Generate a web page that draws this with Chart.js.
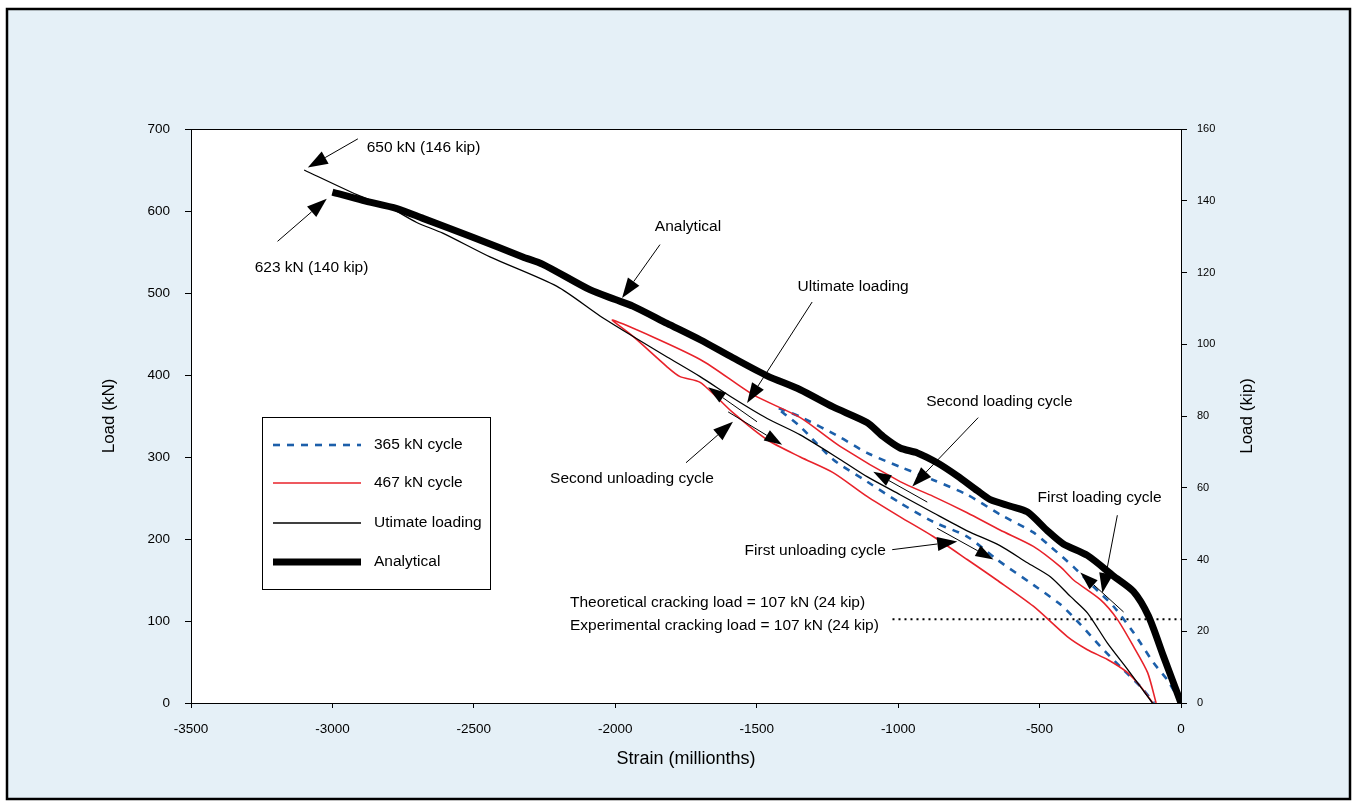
<!DOCTYPE html>
<html>
<head>
<meta charset="utf-8">
<script src="https://cdn.jsdelivr.net/npm/chart.js@4"></script>
<style>
html, body { margin: 0; padding: 0; background: #fff; }
canvas { display: block; }
</style>
</head>
<body>
<canvas id="chart" width="1357" height="806" style="width:1357px;height:806px"></canvas>
<script>
const FONT = '"Liberation Sans", Arial, Helvetica, sans-serif';

// strain in millionths, load in kN
const anaStrain = [-3000, -2893, -2772, -2680, -2504, -2327, -2256, -2090, -2000, -1938, -1817, -1700, -1584, -1463, -1346, -1230, -1110, -1053, -993, -932, -862, -791, -720, -674, -603, -543, -472, -416, -331, -239, -168, -115, -62, 0];
const anaLoad = [623, 613, 603, 591, 568, 544, 535, 504, 492, 484, 463, 443, 421, 399, 382, 361, 342, 325, 311, 305, 293, 277, 259, 248, 240, 233, 210, 194, 180, 155, 136, 106, 57, 0];

const ultStrain = [-101, -189, -260, -331, -391, -462, -543, -640, -756, -876, -993, -1110, -1205, -1346, -1463, -1584, -1700, -1817, -1937, -2054, -2206, -2443, -2610, -2702, -2797, -2914, -3100];
const ultLoad = [0, 41, 73, 110, 130, 154, 171, 192, 210, 232, 254, 276, 297, 327, 347, 372, 398, 422, 447, 472, 508, 544, 573, 586, 604, 620, 650];

// 467 kN cycle: loading branch up to the peak, then unloading back down
const c467Strain = [-88, -118, -168, -225, -285, -380, -426, -522, -640, -756, -876, -993, -1205, -1346, -1513, -1700, -2009, -1937, -1817, -1771, -1700, -1584, -1463, -1346, -1230, -1110, -993, -876, -756, -651, -522, -402, -331, -260, -189, -143, -100];
const c467Load = [0, 37, 69, 102, 126, 150, 166, 191, 211, 232, 252, 270, 313, 348, 376, 419, 467, 447, 410, 398, 391, 354, 321, 300, 281, 252, 227, 203, 175, 150, 118, 81, 65, 53, 37, 20, 0];

// 365 kN cycle
const c365Strain = [0, -48, -97, -168, -239, -310, -380, -462, -522, -640, -756, -876, -993, -1110, -1205, -1346, -1428, -1407, -1346, -1230, -1110, -993, -876, -756, -651, -522, -426, -356, -285, -214, -143, -95];
const c365Load = [0, 28, 49, 86, 118, 142, 166, 191, 208, 230, 254, 272, 288, 305, 324, 349, 360, 354, 337, 297, 270, 244, 221, 203, 175, 144, 120, 96, 69, 44, 20, 0];

const crackStrain = [-1020, 0];
const crackLoad = [102, 102];

const noteText = ['650 kN (146 kip)', '623 kN (140 kip)', 'Analytical', 'Ultimate loading',
  'Second unloading cycle', 'Second loading cycle', 'First loading cycle', 'First unloading cycle',
  'Theoretical cracking load = 107 kN (24 kip)', 'Experimental cracking load = 107 kN (24 kip)'];
const noteStrain = [-2879, -3275, -1743, -1159, -1941, -642, -288, -1293, -2160, -2160];
const noteLoad = [677, 531, 581, 508, 273, 367, 250, 186, 122, 94];
const noteAlign = ['left', 'left', 'center', 'center', 'center', 'center', 'center', 'center', 'left', 'left'];

// pointer arrows from label to curve, and small flow-direction arrows on the curves
const pointerFrom = [[-2910, 688], [-3194, 563], [-1842, 559], [-1304, 489], [-1750, 293], [-717, 348], [-225, 229], [-1021, 187]];
const pointerTo = [[-3087, 653], [-3020, 615], [-1976, 494], [-1534, 366], [-1584, 343], [-950, 264], [-278, 134], [-791, 197]];
const flowFrom = [[-1499, 343], [-1601, 355], [-897, 245], [-862, 213], [-203, 111]];
const flowTo = [[-1672, 385], [-1410, 315], [-1088, 282], [-663, 175], [-356, 159]];

const xTicks = [-3500, -3000, -2500, -2000, -1500, -1000, -500, 0];

function pts(xs, ys) {
  return xs.map((x, i) => ({ x: x, y: ys[i] }));
}

function arrow(ctx, x1, y1, x2, y2, len, half) {
  const a = Math.atan2(y2 - y1, x2 - x1);
  const bx = x2 - len * Math.cos(a), by = y2 - len * Math.sin(a);
  ctx.beginPath();
  ctx.moveTo(x1, y1);
  ctx.lineTo(bx, by);
  ctx.stroke();
  ctx.beginPath();
  ctx.moveTo(x2, y2);
  ctx.lineTo(bx + half * Math.sin(a), by - half * Math.cos(a));
  ctx.lineTo(bx - half * Math.sin(a), by + half * Math.cos(a));
  ctx.closePath();
  ctx.fill();
}

const frame = {
  id: 'frame',
  beforeDraw(chart) {
    const { ctx, chartArea: a } = chart;
    ctx.save();
    ctx.fillStyle = '#fff';
    ctx.fillRect(0, 0, chart.width, chart.height);
    ctx.fillStyle = 'rgb(229,240,247)';
    ctx.fillRect(7, 9, 1343, 790);
    ctx.strokeStyle = '#000';
    ctx.lineWidth = 2.5;
    ctx.strokeRect(7, 9, 1343, 790);
    ctx.fillStyle = '#fff';
    ctx.fillRect(a.left, a.top, a.right - a.left, a.bottom - a.top);
    ctx.restore();
  },
  afterDraw(chart) {
    const { ctx, chartArea: a, scales } = chart;
    const sx = v => scales.x.getPixelForValue(v);
    const sy = v => scales.y.getPixelForValue(v);
    ctx.save();
    // plot border
    ctx.strokeStyle = '#000';
    ctx.lineWidth = 1;
    ctx.strokeRect(a.left + 0.5, a.top + 0.5, a.right - a.left, a.bottom - a.top);

    // right axis title, reads bottom to top
    ctx.fillStyle = '#000';
    ctx.font = '17px ' + FONT;
    ctx.textAlign = 'center';
    ctx.textBaseline = 'middle';
    ctx.save();
    ctx.translate(1247, (a.top + a.bottom) / 2);
    ctx.rotate(-Math.PI / 2);
    ctx.fillText('Load (kip)', 0, 0);
    ctx.restore();

    // annotations
    ctx.font = '15.5px ' + FONT;
    noteText.forEach((t, i) => {
      ctx.textAlign = noteAlign[i];
      ctx.fillText(t, sx(noteStrain[i]), sy(noteLoad[i]));
    });
    ctx.lineWidth = 1;
    pointerFrom.forEach((p, i) => {
      const q = pointerTo[i];
      arrow(ctx, sx(p[0]), sy(p[1]), sx(q[0]), sy(q[1]), 20, 7);
    });
    flowFrom.forEach((p, i) => {
      const q = flowTo[i];
      arrow(ctx, sx(p[0]), sy(p[1]), sx(q[0]), sy(q[1]), 18, 6);
    });

    // legend box
    const lx = 262, ly = 417, lw = 228, lh = 172;
    ctx.fillStyle = '#fff';
    ctx.fillRect(lx, ly, lw, lh);
    ctx.strokeStyle = '#000';
    ctx.lineWidth = 1;
    ctx.strokeRect(lx + 0.5, ly + 0.5, lw, lh);
    const rows = [445, 483, 523, 562];
    chart.data.datasets.slice(0, 4).reverse().forEach((ds, i) => {
      ctx.strokeStyle = ds.borderColor;
      ctx.lineWidth = ds.borderWidth;
      ctx.setLineDash(ds.borderDash || []);
      ctx.beginPath();
      ctx.moveTo(273, rows[i]);
      ctx.lineTo(361, rows[i]);
      ctx.stroke();
      ctx.setLineDash([]);
      ctx.fillStyle = '#000';
      ctx.textAlign = 'left';
      ctx.fillText(ds.label, 374, rows[i]);
    });
    ctx.restore();
  }
};

new Chart(document.getElementById('chart'), {
  type: 'scatter',
  data: {
    datasets: [
      { label: 'Analytical', data: pts(anaStrain, anaLoad), borderColor: '#000', borderWidth: 7, tension: 0.25 },
      { label: 'Utimate loading', data: pts(ultStrain, ultLoad), borderColor: '#000', borderWidth: 1.3, tension: 0.25 },
      { label: '467 kN cycle', data: pts(c467Strain, c467Load), borderColor: '#e8222a', borderWidth: 1.6, tension: 0.25 },
      { label: '365 kN cycle', data: pts(c365Strain, c365Load), borderColor: '#1c5faa', borderWidth: 2.6, borderDash: [7, 7], tension: 0.25 },
      { label: 'cracking', data: pts(crackStrain, crackLoad), borderColor: '#000', borderWidth: 2, borderDash: [2, 4] }
    ].map(d => Object.assign({ showLine: true, pointRadius: 0, fill: false }, d))
  },
  options: {
    responsive: false,
    animation: false,
    devicePixelRatio: 1,
    layout: { padding: { left: 95, right: 96, top: 129, bottom: 32 } },
    plugins: { legend: { display: false }, tooltip: { enabled: false } },
    scales: {
      x: {
        type: 'linear', min: -3500, max: 0,
        afterBuildTicks(s) { s.ticks = xTicks.map(v => ({ value: v })); },
        afterFit(s) { s.height = 71; },
        ticks: { color: '#000', font: { size: 13.5, family: FONT }, padding: 13, maxRotation: 0, callback: v => String(v) },
        grid: { drawOnChartArea: false, tickLength: 5, color: '#000' },
        border: { color: '#000', width: 1 },
        title: { display: true, text: 'Strain (millionths)', color: '#000', font: { size: 18, family: FONT } }
      },
      y: {
        position: 'left', min: 0, max: 700,
        afterFit(s) { s.width = 96; },
        ticks: { stepSize: 100, color: '#000', font: { size: 13.5, family: FONT }, padding: 15, callback: v => String(v) },
        grid: { drawOnChartArea: false, tickLength: 6, color: '#000' },
        border: { color: '#000', width: 1 },
        title: { display: true, text: 'Load (kN)', color: '#000', font: { size: 17, family: FONT } }
      },
      y2: {
        position: 'right', min: 0, max: 160,
        afterFit(s) { s.width = 80; },
        ticks: { stepSize: 20, color: '#000', font: { size: 11, family: FONT }, padding: 10, callback: v => String(v) },
        grid: { drawOnChartArea: false, tickLength: 6, color: '#000' },
        border: { color: '#000', width: 1 }
      }
    }
  },
  plugins: [frame]
});
</script>
</body>
</html>
